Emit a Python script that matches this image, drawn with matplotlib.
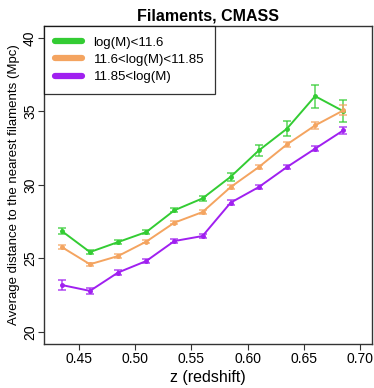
import matplotlib
matplotlib.use("Agg")
import matplotlib.pyplot as plt
from matplotlib.lines import Line2D

plt.rcParams['font.family'] = ['Liberation Sans', 'DejaVu Sans']

z = [0.435, 0.46, 0.485, 0.51, 0.535, 0.56, 0.585, 0.61, 0.635, 0.66, 0.685]

low_mass = [26.86, 25.43, 26.11, 26.79, 28.27, 29.08, 30.55, 32.34, 33.82, 36.03, 35.01]
low_mass_err = [0.20, 0.14, 0.12, 0.13, 0.13, 0.16, 0.26, 0.36, 0.50, 0.78, 0.74]

mid_mass = [25.77, 24.60, 25.16, 26.14, 27.43, 28.15, 29.85, 31.21, 32.75, 34.04, 35.06]
mid_mass_err = [0.15, 0.12, 0.12, 0.12, 0.12, 0.14, 0.15, 0.16, 0.18, 0.22, 0.34]

high_mass = [23.19, 22.79, 24.04, 24.82, 26.18, 26.52, 28.79, 29.85, 31.21, 32.46, 33.70]
high_mass_err = [0.34, 0.18, 0.16, 0.15, 0.13, 0.16, 0.17, 0.15, 0.15, 0.16, 0.24]

labels = ["log(M)<11.6", "11.6<log(M)<11.85", "11.85<log(M)"]
colors = ["#33cc33", "#f4a460", "#a020f0"]

x_ticks = [0.45, 0.50, 0.55, 0.60, 0.65, 0.70]
y_ticks = [20, 25, 30, 35, 40]

W, H = 374, 388
fig = plt.figure(figsize=(W / 100, H / 100), dpi=100)
left, right, top, bottom = 44, 372.3, 26, 343.7
ax = fig.add_axes([left / W, 1 - bottom / H, (right - left) / W, (bottom - top) / H])

series = [(low_mass, low_mass_err), (mid_mass, mid_mass_err), (high_mass, high_mass_err)]
for (vals, errs), col in zip(series, colors):
    ax.errorbar(z, vals, yerr=errs, fmt="none", ecolor=col, elinewidth=1.2,
                capsize=3.2, capthick=1.2, alpha=0.75, zorder=2)
    ax.plot(z, vals, color=col, lw=1.4, marker="o", ms=2.5, zorder=3)

ax.set_xlim(0.4192, 0.7108)
ax.set_ylim(19.2, 40.8)
ax.set_xticks(x_ticks)
ax.set_xticklabels([f"{t:.2f}" for t in x_ticks])
ax.set_yticks(y_ticks)
ax.set_yticklabels([str(t) for t in y_ticks], rotation=90, va="center", ha="center")
ax.tick_params(direction="out", length=4.1, width=0.8, colors="#333333",
               labelsize=10, labelcolor="black")
ax.tick_params(axis="x", pad=2)
ax.tick_params(axis="y", pad=6)

for sp in ax.spines.values():
    sp.set_color("#333333")
    sp.set_linewidth(1.0)

ax.set_xlabel("z (redshift)", fontsize=11.5, labelpad=3)
ax.set_ylabel("Average distance to the nearest filaments (Mpc)", fontsize=9.5)
ax.yaxis.set_label_coords((20 - left) / (right - left), 0.5)
ax.set_title("Filaments, CMASS", fontsize=11.5, fontweight="bold", pad=4)

handles = [Line2D([0], [0], color=c, lw=4.5, solid_capstyle="round") for c in colors]
leg = ax.legend(handles, labels, loc="upper left", bbox_to_anchor=(0, 1),
                fontsize=9.5, frameon=True, fancybox=False, borderaxespad=0,
                handlelength=2.1, handletextpad=0.85, borderpad=0.8, labelspacing=0.38)
leg.get_frame().set_edgecolor("black")
leg.get_frame().set_linewidth(0.9)

fig.savefig("out.png", dpi=100)
